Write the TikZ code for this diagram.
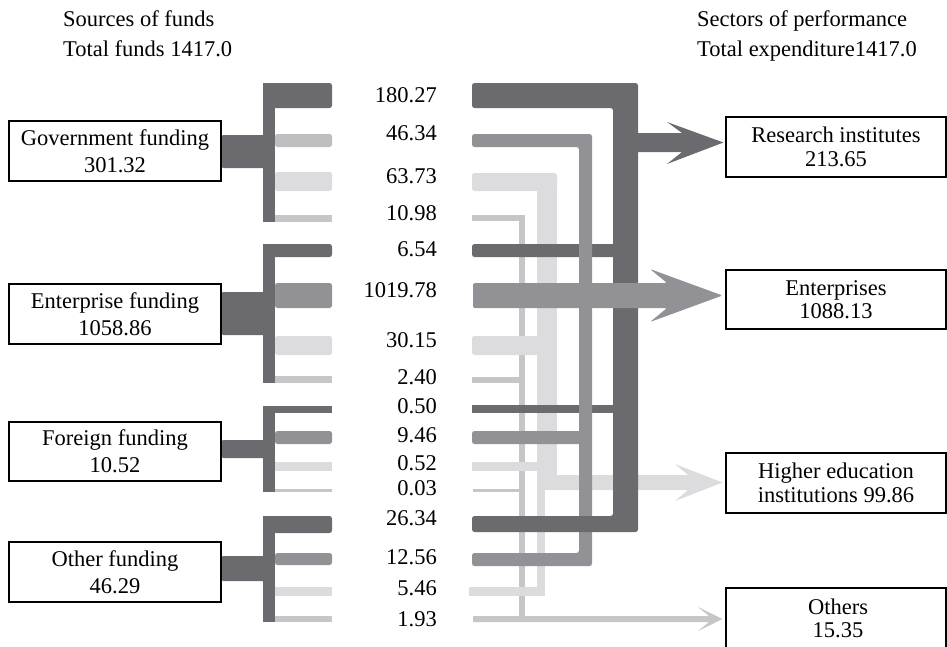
\documentclass[tikz,border=0pt]{standalone}
\usepackage{fontspec}
\setmainfont{Liberation Serif}
\usetikzlibrary{calc}
\definecolor{cdark}{HTML}{6B6B6F}
\definecolor{cmed}{HTML}{929296}
\definecolor{cstub}{HTML}{BEBEC1}
\definecolor{clm}{HTML}{C6C6C8}
\definecolor{cvl}{HTML}{DCDCDE}
\newcommand\fsl{\fontsize{22.5}{27}\selectfont}
\newcommand\fsr{\fontsize{22.5}{23.5}\selectfont}
\tikzset{
  lbox/.style={draw=black, line width=1.1pt, fill=white, minimum width=212pt, minimum height=60pt, align=center, inner sep=0pt, font=\fsl},
  rbox/.style={draw=black, line width=1.1pt, fill=white, minimum width=220pt, minimum height=60pt, align=center, inner sep=0pt, font=\fsr},
  lbl/.style={anchor=east, inner sep=0pt, font=\fsl},
  hdr/.style={anchor=base west, inner sep=0pt, font=\fsl},
  bar/.style={rounded corners=2.5pt}
}
\begin{document}
\begin{tikzpicture}[x=1pt,y=-1pt]
\useasboundingbox (0,0) rectangle (947,646);
\clip (0,0) rectangle (947,646);

% headers
\node[hdr] (srcA) at (63,26) {Sources of funds};
\node[hdr] (srcB) at (63,56) {Total funds 1417.0};
\node[hdr] (secA) at (697,26) {Sectors of performance};
\node[hdr] (secB) at (697,56) {Total expenditure1417.0};

% right boxes
\node[rbox] (res) at (836,147) {Research institutes\\213.65};
\node[rbox, minimum height=59pt] (ent) at (836,299.5) {Enterprises\\1088.13};
\node[rbox] (hig) at (836,483) {Higher education\\institutions 99.86};
\node[rbox, minimum height=80pt] (oth) at (836,628) {};
\node[font=\fsr, align=center, inner sep=0pt] (othT) at (838,618.5) {Others\\15.35};

% ---------- left side ----------
% government
\fill[cdark, bar] (221,135) rectangle (266,168);
\fill[cdark] (263,83) rectangle (275,222);
\fill[cdark, bar] (263,83) rectangle (332,108);
\fill[cstub, bar] (275,134) rectangle (332,147);
\fill[cvl, bar] (275,172) rectangle (332,191);
\fill[clm] (275,215) rectangle (332,222);
\node[lbox] (gov) at (115,151) {Government funding\\301.32};
% enterprise
\fill[cdark, bar] (221,292) rectangle (266,335);
\fill[cdark] (263,244) rectangle (275,383);
\fill[cdark, bar] (263,244) rectangle (332,257);
\fill[cmed, bar] (275,283) rectangle (332,308);
\fill[cvl, bar] (275,336) rectangle (332,355);
\fill[clm] (275,376) rectangle (332,383);
\node[lbox] (entf) at (115,314) {Enterprise funding\\1058.86};
% foreign
\fill[cdark, bar] (221,440) rectangle (266,458);
\fill[cdark] (263,406) rectangle (275,492);
\fill[cdark] (263,406) rectangle (332,413);
\fill[cmed, bar] (275,431) rectangle (332,444);
\fill[cvl] (275,462) rectangle (332,471);
\fill[clm] (275,489) rectangle (332,492);
\node[lbox, minimum height=59pt] (for) at (115,451.5) {Foreign funding\\10.52};
% other
\fill[cdark, bar] (221,556) rectangle (266,581);
\fill[cdark] (263,516) rectangle (275,622);
\fill[cdark, bar] (263,516) rectangle (332,533);
\fill[cmed, bar] (275,553) rectangle (332,565);
\fill[cvl] (275,587) rectangle (332,596);
\fill[clm] (275,616) rectangle (332,622);
\node[lbox] (othf) at (115,572) {Other funding\\46.29};

% ---------- middle labels ----------
\foreach \y/\t/\n in {95/180.27/a, 133/46.34/b, 176/63.73/c, 213/10.98/d,
  249/6.54/e, 290/1019.78/f, 340/30.15/g, 377/2.40/h,
  406/0.50/i, 435/9.46/j, 463/0.52/k, 488/0.03/l,
  518/26.34/m, 557/12.56/n, 588/5.46/o, 619/1.93/p}
  \node[lbl] (v\n) at (437,\y) {\t};

% ---------- flows ----------
% light-medium flow -> Others
\fill[clm] (472,215) rectangle (525,221);
\fill[clm] (519,215) rectangle (525,622);
\fill[clm] (472,377) rectangle (519,383);
\fill[clm] (473,489) rectangle (519,492);
\fill[clm] (473,616) -- (709,616) -- (698,607) -- ($(oth.west |- 0,619)+(-3,0)$) -- (698,631) -- (709,622) -- (473,622) -- cycle;

% very light flow -> Higher education
\fill[cvl, bar] (472,173) rectangle (557,191);
\fill[cvl] (537,180) rectangle (557,490);
\fill[cvl, bar] (472,336) rectangle (540,355);
\fill[cvl] (472,462) rectangle (540,471);
\fill[cvl] (537,470) rectangle (545,596);
\fill[cvl] (469,587) rectangle (545,596);
\fill[cvl] (545,475) -- (688,475) -- (675,464) -- ($(hig.west |- 0,482.5)+(-3,0)$) -- (675,501) -- (688,490) -- (545,490) -- cycle;

% dark thin bars
\fill[cdark, bar] (472,244) rectangle (616,257);
\fill[cdark] (472,405) rectangle (616,413);

% medium flow
\fill[cmed, bar] (472,134) -- (592,134) -- (592,566) -- (472,566) -- (472,553) -- (579,553) -- (579,147) -- (472,147) -- cycle;
\fill[cmed, bar] (472,431) rectangle (582,444);

% dark trunk -> Research institutes
\fill[cdark, bar] (472,83) -- (638,83) -- (638,532) -- (472,532) -- (472,516) -- (613,516) -- (613,108) -- (472,108) -- cycle;
\fill[cdark] (636,133) -- (682,133) -- (667,122) -- ($(res.west |- 0,142.5)+(-2,0)$) -- (667,164) -- (682,152) -- (636,152) -- cycle;

% medium big bar -> Enterprises
\fill[cmed, rounded corners=1.5pt] (473,283) -- (667,283) -- (650,269) -- ($(ent.west |- 0,295.5)+(-3,0)$) -- (650,322) -- (667,308) -- (473,308) -- cycle;
\end{tikzpicture}
\end{document}
